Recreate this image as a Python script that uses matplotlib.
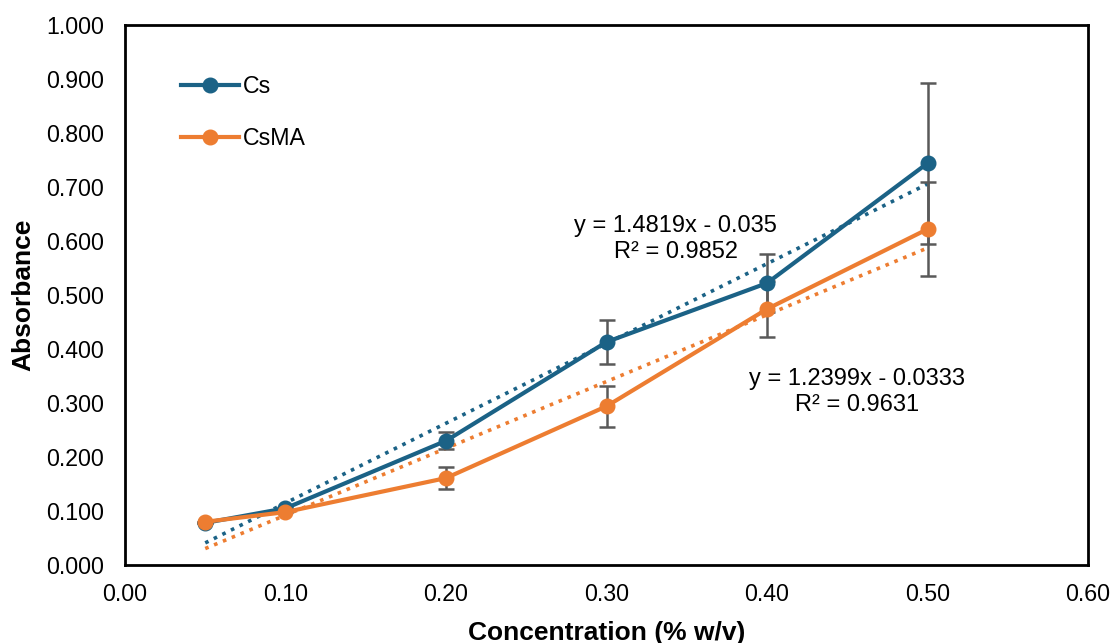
import numpy as np
import matplotlib
matplotlib.use("Agg")
import matplotlib.pyplot as plt

plt.rcParams['font.family'] = ['Liberation Sans', 'DejaVu Sans']

# concentration (% w/v) and absorbance readings
conc = [0.05, 0.10, 0.20, 0.30, 0.40, 0.50]
cs_abs = [0.078, 0.105, 0.230, 0.413, 0.522, 0.744]
cs_err = [0.0, 0.0, 0.016, 0.041, 0.054, 0.149]
csma_abs = [0.080, 0.098, 0.161, 0.294, 0.474, 0.622]
csma_err = [0.0, 0.0, 0.020, 0.038, 0.052, 0.087]

cs_eq = "y = 1.4819x - 0.035\nR² = 0.9852"
csma_eq = "y = 1.2399x - 0.0333\nR² = 0.9631"

blue = '#1b6286'
orange = '#ed7d31'

fig = plt.figure(figsize=(11.15, 6.43), dpi=100)
ax = fig.add_axes([0.1121, 0.1213, 0.8637, 0.8398])

for y, err, col, name in [(cs_abs, cs_err, blue, 'Cs'), (csma_abs, csma_err, orange, 'CsMA')]:
    # linear trendline, dotted
    k, b = np.polyfit(conc, y, 1)
    xs = np.array([conc[0], conc[-1]])
    ax.plot(xs, k * xs + b, ':', color=col, lw=2.6, zorder=2)
    ax.errorbar(conc, y, yerr=err, fmt='none', ecolor='#595959', elinewidth=1.8,
                capsize=6, capthick=1.8, zorder=3)
    ax.plot(conc, y, '-o', color=col, lw=3, ms=10.5, label=name, zorder=4)

ax.text(0.343, 0.604, cs_eq, ha='center', va='center', fontsize=17, linespacing=1.22)
ax.text(0.456, 0.320, csma_eq, ha='center', va='center', fontsize=17, linespacing=1.22)

ax.set_xlim(0, 0.6)
ax.set_ylim(0, 1.0)
ax.set_xticks(np.arange(0, 0.61, 0.1))
ax.set_yticks(np.arange(0, 1.01, 0.1))
ax.xaxis.set_major_formatter(matplotlib.ticker.FormatStrFormatter('%.2f'))
ax.yaxis.set_major_formatter(matplotlib.ticker.FormatStrFormatter('%.3f'))
ax.tick_params(length=0, labelsize=16.7)
ax.tick_params(axis='x', pad=13)
ax.tick_params(axis='y', pad=15)
for s in ax.spines.values():
    s.set_linewidth(2)
    s.set_color('black')

ax.set_xlabel('Concentration (% w/v)', fontsize=19, fontweight='bold', labelpad=11)
ax.set_ylabel('Absorbance', fontsize=19, fontweight='bold', labelpad=8)

leg = ax.legend(loc='upper left', bbox_to_anchor=(0.037, 0.946), frameon=False, fontsize=16.7,
                handlelength=2.5, labelspacing=1.25, handletextpad=0.15)

fig.savefig('out.png', dpi=100)
